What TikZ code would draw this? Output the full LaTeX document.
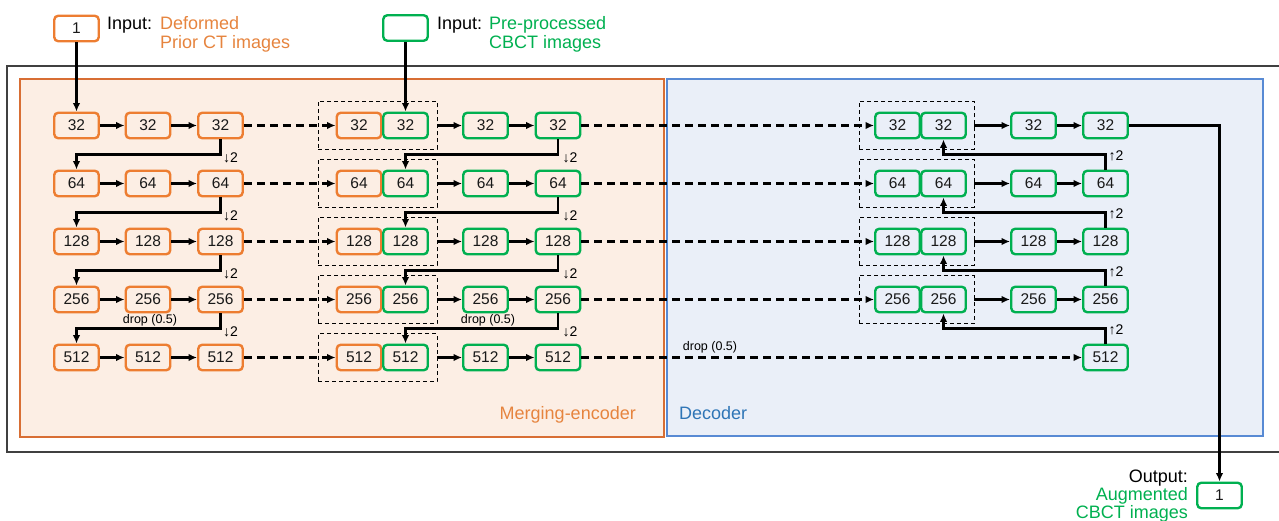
\documentclass[tikz,border=0pt]{standalone}
\usepackage{fontspec}
\setmainfont{Liberation Sans}
\usetikzlibrary{arrows.meta,calc}
\definecolor{encorange}{RGB}{237,125,49}
\definecolor{cbgreen}{RGB}{0,176,80}
\definecolor{encfill}{RGB}{252,238,228}
\definecolor{encline}{RGB}{216,110,52}
\definecolor{decfill}{RGB}{234,239,248}
\definecolor{decline}{RGB}{88,138,212}
\definecolor{dectext}{RGB}{46,117,182}
\definecolor{enctext}{RGB}{230,132,62}

\begin{document}
\begin{tikzpicture}[x=1pt,y=-1pt,
  >={Latex[length=8.5pt,width=7.5pt]},
  blk/.style={draw,rounded corners=4pt,line width=2.4pt,minimum width=44.5pt,minimum height=25.5pt,inner sep=0pt,font=\fontsize{15.5}{18}\selectfont,text=black!90},
  ctblk/.style={blk,draw=encorange},
  cbblk/.style={blk,draw=cbgreen},
  pairbox/.style={draw,dash pattern=on 4pt off 3pt,line width=0.9pt,minimum height=48pt,inner sep=0pt},
  conn/.style={line width=2.4pt},
  skipline/.style={line width=2.2pt,dash pattern=on 8pt off 5pt},
  lbl/.style={inner sep=0pt,font=\fontsize{18}{21}\selectfont},
  smalllbl/.style={inner sep=0pt,font=\fontsize{12.5}{14}\selectfont},
  steplbl/.style={inner sep=0pt,font=\fontsize{14}{16}\selectfont}]
\useasboundingbox (0,0) rectangle (1279,521);

\draw[line width=1.5pt,black!75] (7,66) rectangle (1300,452);
\draw[encline,fill=encfill,line width=1.2pt] (20,79) rectangle (664,437);
\draw[decline,fill=decfill,line width=1.2pt] (667,79) rectangle (1263,436);

\node[lbl,text=enctext,anchor=base east] (enclbl) at (636,419.5) {Merging-encoder};
\node[lbl,text=dectext,anchor=base west] (declbl) at (679,419.5) {Decoder};

\foreach \n [count=\i] in {32,64,128,256,512}{
  \pgfmathsetmacro\y{125.5+58*(\i-1)}
  \node[ctblk] (enc1-\i) at (76.5,\y) {\n};
  \node[ctblk] (enc2-\i) at (148,\y) {\n};
  \node[ctblk] (enc3-\i) at (220.5,\y) {\n};
  \node[pairbox,minimum width=119pt] (mfr-\i) at (377.5,\y) {};
  \node[ctblk] (mo-\i) at (359,\y) {\n};
  \node[cbblk] (mg-\i) at (405.5,\y) {\n};
  \node[cbblk] (cb1-\i) at (485.5,\y) {\n};
  \node[cbblk] (cb2-\i) at (558,\y) {\n};
  \draw[->,conn] (enc1-\i) -- (enc2-\i);
  \draw[->,conn] (enc2-\i) -- (enc3-\i);
  \draw[->,skipline] (enc3-\i) -- (mo-\i);
  \draw[->,conn] (mfr-\i.east) -- (cb1-\i);
  \draw[->,conn] (cb1-\i) -- (cb2-\i);
}

\foreach \n [count=\i] in {32,64,128,256}{
  \pgfmathsetmacro\y{125.5+58*(\i-1)}
  \node[pairbox,minimum width=115pt] (dfr-\i) at (916.5,\y) {};
  \node[cbblk] (dl-\i) at (897.5,\y) {\n};
  \node[cbblk] (dr-\i) at (943.5,\y) {\n};
  \node[cbblk] (dec1-\i) at (1033.5,\y) {\n};
  \node[cbblk] (dec2-\i) at (1105.5,\y) {\n};
  \draw[->,skipline] (cb2-\i) -- (dl-\i);
  \draw[->,conn] (dfr-\i.east) -- (dec1-\i);
  \draw[->,conn] (dec1-\i) -- (dec2-\i);
}
\node[cbblk] (dec2-5) at (1105.5,357.5) {512};
\draw[->,skipline] (cb2-5) -- (dec2-5);

\foreach \i [evaluate=\i as \j using int(\i+1)] in {1,...,4}{
  \draw[->,conn] (enc3-\i.south) -- ++(0,15) coordinate (dn-\i) -| (enc1-\j.north);
  \node[steplbl,anchor=west] (dnl-\i) at ([shift={(2.5,3.5)}]dn-\i) {↓2};
  \draw[->,conn] (cb2-\i.south) -- ++(0,15) coordinate (gn-\i) -| (mg-\j.north);
  \node[steplbl,anchor=west] (gnl-\i) at ([shift={(4.5,3.5)}]gn-\i) {↓2};
  \draw[->,conn] (dec2-\j.north) -- ++(0,-15) coordinate (up-\i) -| (dr-\i.south);
  \node[steplbl,anchor=west] (upl-\i) at ([shift={(3,1.5)}]up-\i) {↑2};
}

\node[smalllbl] (drop1) at (150,320) {drop (0.5)};
\node[smalllbl] (drop2) at (488,320) {drop (0.5)};
\node[smalllbl] (drop3) at (710,347) {drop (0.5)};

\node[ctblk] (inct) at (76.5,28.5) {1};
\node[cbblk] (incb) at (405.5,28) {};
\draw[->,conn] (inct) -- (enc1-1);
\draw[->,conn] (incb) -- (mg-1);
\node[lbl,anchor=base west] (inct-a) at (107,30) {Input:};
\node[lbl,anchor=base west,text=enctext] (inct-b) at (160,30) {Deformed};
\node[lbl,anchor=base west,text=enctext] (inct-c) at (160,48.3) {Prior CT images};
\node[lbl,anchor=base west] (incb-a) at (437,30) {Input:};
\node[lbl,anchor=base west,text=cbgreen] (incb-b) at (489,30) {Pre-processed};
\node[lbl,anchor=base west,text=cbgreen] (incb-c) at (489,48.3) {CBCT images};

\node[cbblk] (out) at (1219.5,495.5) {1};
\draw[->,conn] (dec2-1.east) -| (out.north);
\node[lbl,anchor=base east] (outa) at (1188,482) {Output:};
\node[lbl,anchor=base east,text=cbgreen] (outb) at (1188,500) {Augmented};
\node[lbl,anchor=base east,text=cbgreen] (outc) at (1188,518) {CBCT images};
\end{tikzpicture}
\end{document}
